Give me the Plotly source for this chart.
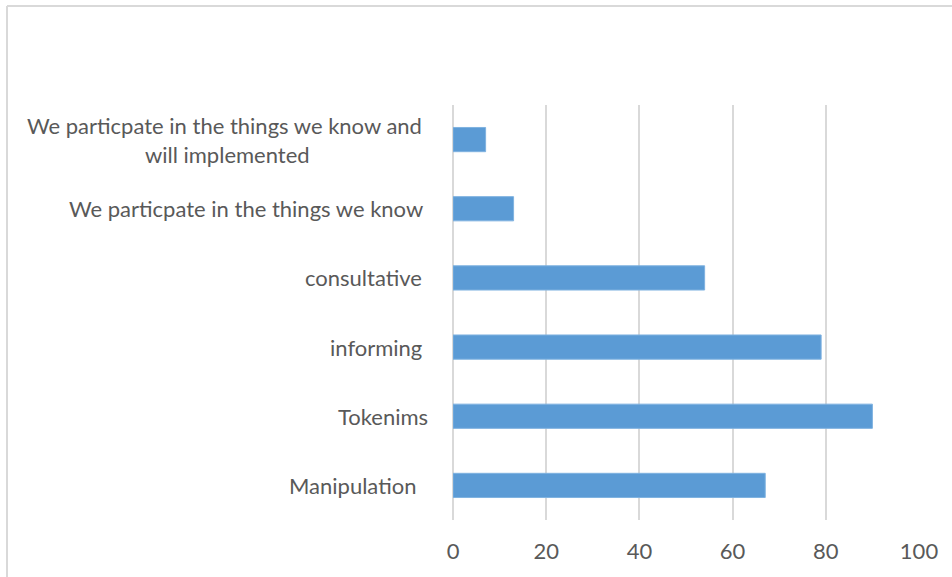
import plotly.graph_objects as go

# Survey responses per participation level
NBSP = "\u00a0"
categories = [
    "Manipulation" + NBSP * 2,
    "Tokenims",
    "informing" + NBSP,
    "consultative" + NBSP,
    "We particpate in the things we know" + NBSP,
    "We particpate in the things we know and" + NBSP + "<br>will implemented",
]
values = [67, 90, 79, 54, 13, 7]
x_ticks = [0, 20, 40, 60, 80, 100]

W, H = 952, 577
ML, MR, MT, MB = 453, 33, 105, 57
PW, PH = W - ML - MR, H - MT - MB

FONT = "Lato"
TEXT = "#595959"
GRID = "#d9d9d9"
BAR = "#5b9bd5"

fig = go.Figure(
    go.Bar(
        x=values,
        y=categories,
        orientation="h",
        width=0.35,
        marker=dict(color=BAR, line=dict(color="#7fb2e0", width=1)),
        hoverinfo="x+y",
    )
)

# Category labels, centred line-by-line and right-aligned against the axis
for cat in categories:
    fig.add_annotation(
        x=-23 / PW,
        xref="paper",
        y=cat,
        yref="y",
        text=cat,
        showarrow=False,
        xanchor="right",
        yanchor="middle",
        align="center",
        font=dict(family=FONT, size=22, color=TEXT),
    )

# Chart-area frame (top and left edges)
fx0 = (7 - ML) / PW
fy1 = 1 + (MT - 6) / PH
fig.add_shape(type="line", xref="paper", yref="paper", x0=fx0, x1=fx0,
              y0=-1, y1=fy1, line=dict(color=GRID, width=2))
fig.add_shape(type="line", xref="paper", yref="paper", x0=fx0, x1=2,
              y0=fy1, y1=fy1, line=dict(color=GRID, width=2))

fig.update_layout(
    width=W,
    height=H,
    margin=dict(l=ML, r=MR, t=MT, b=MB),
    paper_bgcolor="white",
    plot_bgcolor="white",
    showlegend=False,
    bargap=0.65,
    font=dict(family=FONT, size=22, color=TEXT),
    xaxis=dict(
        range=[0, 100],
        tickvals=x_ticks,
        ticktext=[str(t) for t in x_ticks],
        showgrid=True,
        gridcolor=GRID,
        gridwidth=2,
        zeroline=True,
        zerolinecolor=GRID,
        zerolinewidth=2,
        showline=False,
        ticks="",
        ticklabelstandoff=16,
        tickfont=dict(family=FONT, size=22, color=TEXT),
        fixedrange=True,
    ),
    yaxis=dict(
        categoryorder="array",
        categoryarray=categories,
        showticklabels=False,
        showgrid=False,
        zeroline=False,
        showline=False,
        ticks="",
        fixedrange=True,
    ),
)

fig.write_html("out.html")
